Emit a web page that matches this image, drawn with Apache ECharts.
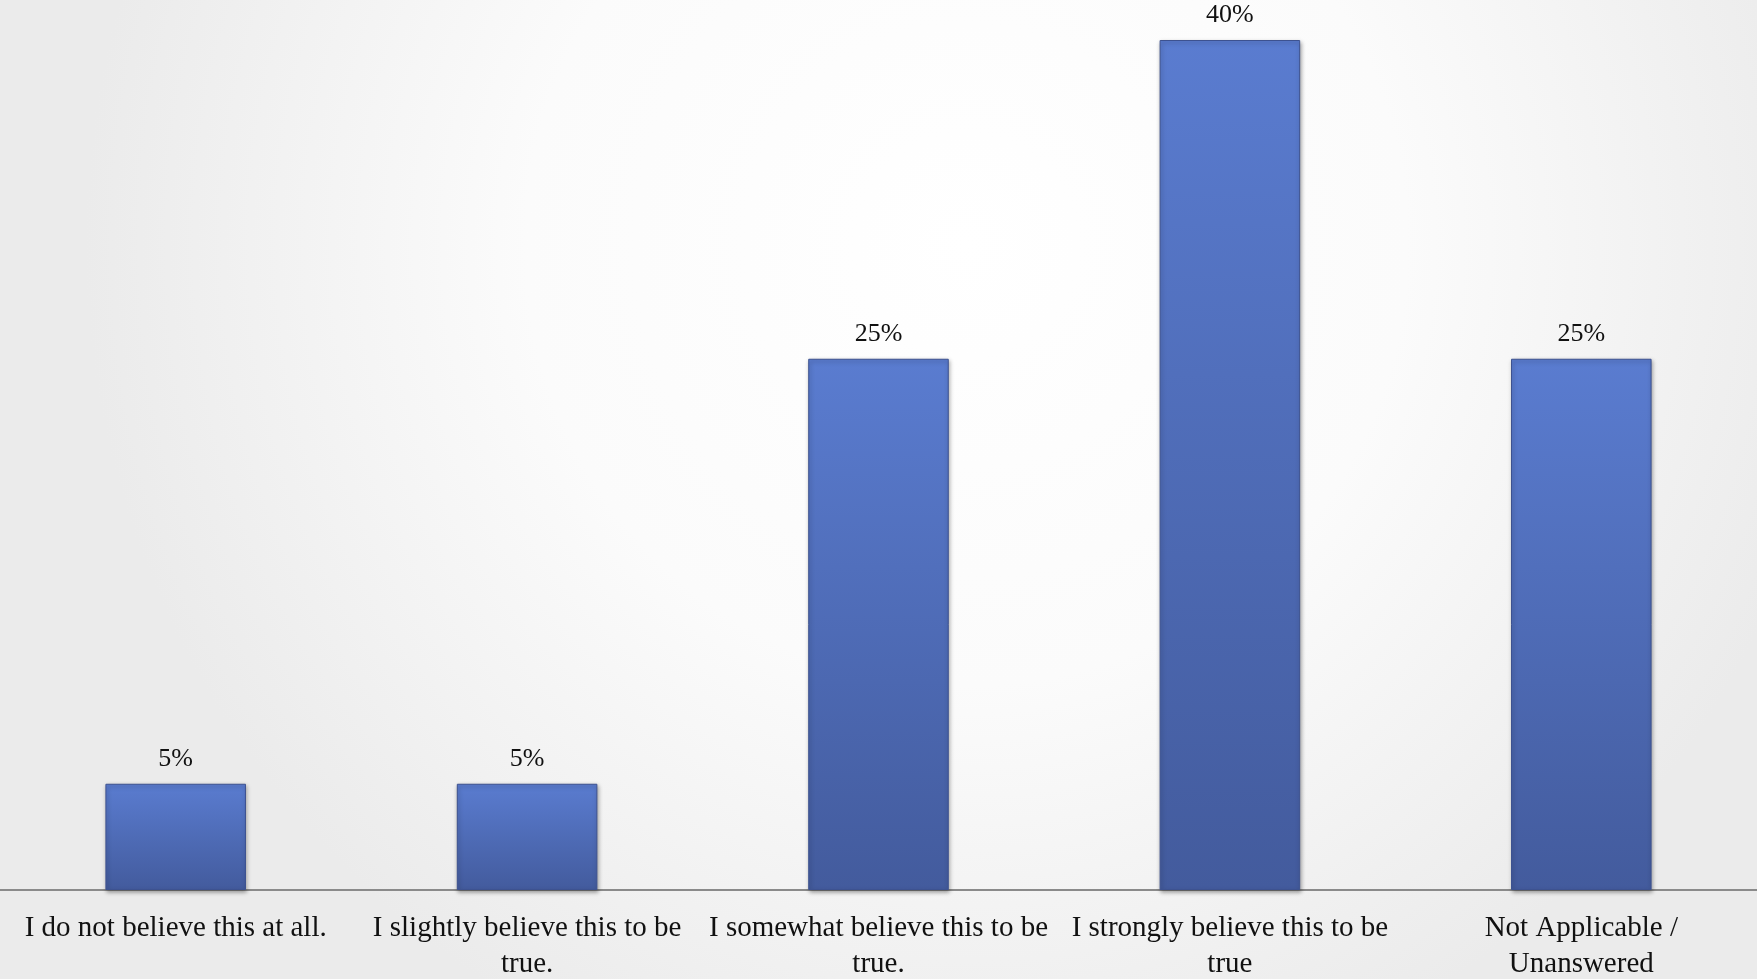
<!DOCTYPE html>
<html>
<head>
<meta charset="utf-8">
<script src="https://cdn.jsdelivr.net/npm/echarts@6/dist/echarts.min.js"></script>
<style>
  html, body { margin: 0; padding: 0; width: 100%; height: 100%; overflow: hidden; }
  #chart { width: 1757px; height: 979px; }
</style>
</head>
<body>
<div id="chart"></div>
<script>
// Survey answers (share of respondents, %)
const categories = [
  'I do not believe this at all.',
  'I slightly believe this to be\ntrue.',
  'I somewhat believe this to be\ntrue.',
  'I strongly believe this to be\ntrue',
  'Not Applicable /\nUnanswered'
];
const shares = [5, 5, 25, 40, 25];

const serif = '"Liberation Serif", "DejaVu Serif", serif';

const chart = echarts.init(document.getElementById('chart'));
chart.setOption({
  backgroundColor: {
    type: 'radial', x: 0.55, y: 0.25, r: 0.9,
    colorStops: [
      { offset: 0, color: '#ffffff' },
      { offset: 0.5, color: '#fbfbfb' },
      { offset: 1, color: '#ebebeb' }
    ]
  },
  animation: false,
  grid: {
    left: 0, right: 0, top: 40, bottom: 89,
    containLabel: false,
    outerBoundsMode: 'none'
  },
  xAxis: {
    type: 'category',
    data: categories,
    axisLine: { lineStyle: { color: '#8a8a8a', width: 2 } },
    axisTick: { show: false },
    axisLabel: {
      color: '#111',
      fontFamily: serif,
      fontSize: 29,
      lineHeight: 36,
      margin: 20,
      interval: 0
    }
  },
  yAxis: {
    type: 'value',
    min: 0, max: 40,
    show: false,
    splitLine: { show: false }
  },
  series: [{
    type: 'bar',
    data: shares,
    barCategoryGap: '60%',
    itemStyle: {
      color: {
        type: 'linear', x: 0, y: 0, x2: 0, y2: 1,
        colorStops: [
          { offset: 0, color: '#5a7cd0' },
          { offset: 1, color: '#435b9d' }
        ]
      },
      borderColor: '#3d5290',
      borderWidth: 1,
      shadowColor: 'rgba(0,0,0,0.35)',
      shadowBlur: 4,
      shadowOffsetX: 1,
      shadowOffsetY: 2
    },
    label: {
      show: true,
      position: 'top',
      distance: 12,
      formatter: '{c}%',
      color: '#111',
      fontFamily: serif,
      fontSize: 26
    }
  }]
});
</script>
</body>
</html>
